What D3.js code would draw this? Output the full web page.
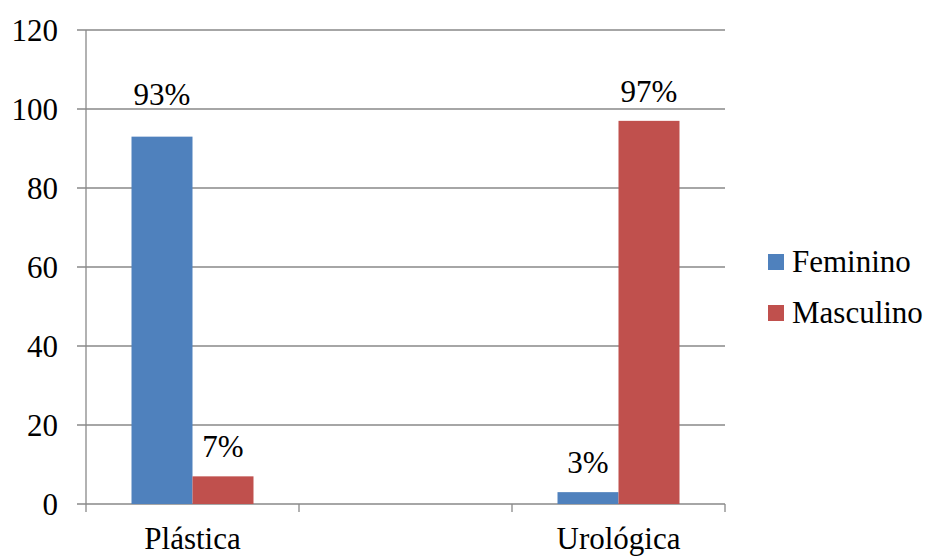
<!DOCTYPE html>
<html>
<head>
<meta charset="utf-8">
<script src="https://cdn.jsdelivr.net/npm/d3@7"></script>
<style>
  body { margin: 0; background: #fff; }
</style>
</head>
<body>
<script>
// values
var categories = ["Plástica", "", "Urológica"];
var series = ["Feminino", "Masculino"];
var feminino = [93, null, 3];
var masculino = [7, null, 97];
var yTicks = [0, 20, 40, 60, 80, 100, 120];
var colors = ["#4F81BD", "#C0504D"];

var width = 928, height = 556;
var plotLeft = 86, plotRight = 725, plotTop = 30, plotBottom = 504;
var fontSize = 31;
var serif = "Liberation Serif";

var svg = d3.select("body").append("svg")
    .attr("width", width)
    .attr("height", height)
    .attr("font-family", serif)
    .attr("font-size", fontSize);

var x = d3.scaleBand()
    .domain(categories)
    .range([plotLeft, plotRight]);

var xs = d3.scaleBand()
    .domain(series)
    .range([0, x.bandwidth()])
    .paddingOuter(0.746);

var y = d3.scaleLinear()
    .domain([0, 120])
    .range([plotBottom, plotTop]);

// gridlines + y ticks
svg.append("g")
  .selectAll("line")
  .data(yTicks)
  .enter().append("line")
    .attr("x1", plotLeft - 9)
    .attr("x2", plotRight)
    .attr("y1", function(d) { return y(d); })
    .attr("y2", function(d) { return y(d); })
    .attr("stroke", "#898989")
    .attr("stroke-width", 1.3);

svg.append("g")
  .selectAll("text")
  .data(yTicks)
  .enter().append("text")
    .attr("x", 58)
    .attr("y", function(d) { return y(d) + 11; })
    .attr("text-anchor", "end")
    .attr("font-family", serif)
    .text(function(d) { return d; });

// y axis line
svg.append("line")
    .attr("x1", plotLeft).attr("x2", plotLeft)
    .attr("y1", plotTop).attr("y2", plotBottom)
    .attr("stroke", "#898989")
    .attr("stroke-width", 1.3);

// x tick marks at band edges
var edges = categories.map(function(c) { return x(c); }).concat([plotRight]);
svg.append("g")
  .selectAll("line")
  .data(edges)
  .enter().append("line")
    .attr("x1", function(d) { return d; })
    .attr("x2", function(d) { return d; })
    .attr("y1", plotBottom)
    .attr("y2", plotBottom + 8)
    .attr("stroke", "#898989")
    .attr("stroke-width", 1.3);

// bars
var rows = [];
categories.forEach(function(c, i) {
  [feminino[i], masculino[i]].forEach(function(v, j) {
    if (v != null) rows.push({cat: c, s: series[j], v: v, color: colors[j]});
  });
});

svg.append("g")
  .selectAll("rect")
  .data(rows)
  .enter().append("rect")
    .attr("x", function(d) { return x(d.cat) + xs(d.s); })
    .attr("y", function(d) { return y(d.v); })
    .attr("width", xs.bandwidth())
    .attr("height", function(d) { return y(0) - y(d.v); })
    .attr("fill", function(d) { return d.color; });

// data labels; tall ones sit just above the 100 gridline as in the original
function labelY(d) {
  var ly = y(d.v) - 19;
  if (d.v >= 90) ly = Math.min(ly, y(100) - 4);
  return ly;
}

svg.append("g")
  .selectAll("text")
  .data(rows)
  .enter().append("text")
    .attr("x", function(d) { return x(d.cat) + xs(d.s) + xs.bandwidth() / 2; })
    .attr("y", labelY)
    .attr("text-anchor", "middle")
    .attr("font-family", serif)
    .text(function(d) { return d.v + "%"; });

// category labels
svg.append("g")
  .selectAll("text")
  .data(categories)
  .enter().append("text")
    .attr("x", function(d) { return x(d) + x.bandwidth() / 2; })
    .attr("y", 549)
    .attr("text-anchor", "middle")
    .attr("font-family", serif)
    .text(function(d) { return d; });

// legend
var legend = svg.append("g")
  .selectAll("g")
  .data(series)
  .enter().append("g")
    .attr("transform", function(d, i) { return "translate(768," + (254 + i * 51) + ")"; });

legend.append("rect")
    .attr("width", 16)
    .attr("height", 16)
    .attr("fill", function(d, i) { return colors[i]; });

legend.append("text")
    .attr("x", 24)
    .attr("y", 18)
    .attr("font-family", serif)
    .text(function(d) { return d; });
</script>
</body>
</html>
